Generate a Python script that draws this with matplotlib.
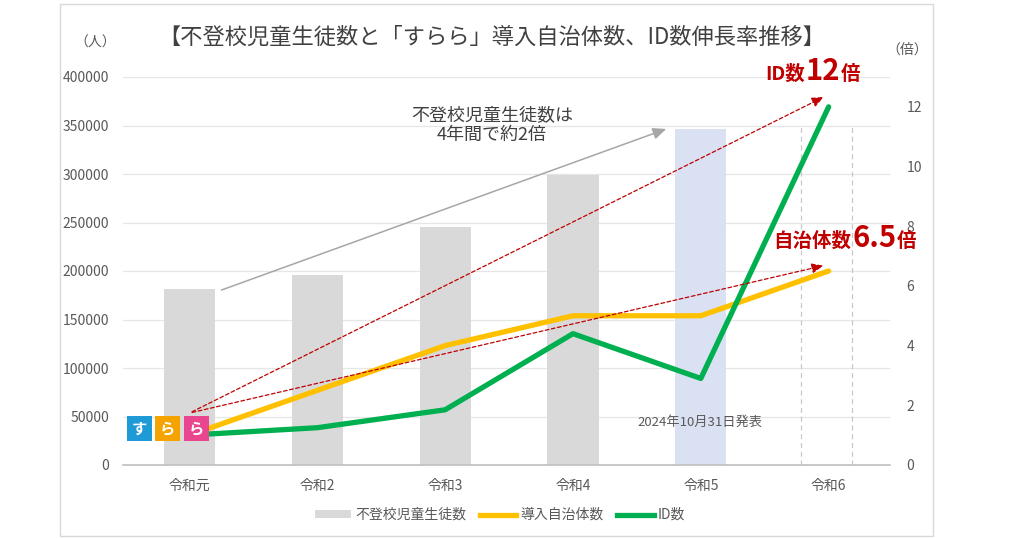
import matplotlib
matplotlib.use("Agg")
import matplotlib.pyplot as plt
from matplotlib.patches import Rectangle, Patch
from matplotlib.lines import Line2D

plt.rcParams['font.family'] = ['Noto Sans CJK JP', 'DejaVu Sans']

categories = ["令和元", "令和2", "令和3", "令和4", "令和5", "令和6"]
students = [181272, 196127, 244940, 299048, 346482, None]
municipalities = [1.0, 2.5, 4.0, 5.0, 5.0, 6.5]
id_counts = [1.0, 1.25, 1.85, 4.4, 2.9, 12.0]
left_ticks = [0, 50000, 100000, 150000, 200000, 250000, 300000, 350000, 400000]
right_ticks = [0, 2, 4, 6, 8, 10, 12]

GRAY = "#595959"
RED = "#C00000"

fig = plt.figure(figsize=(10.24, 5.38), dpi=100)
W, H = 1024, 538
ax = fig.add_axes([123 / W, 1 - 465 / H, (890 - 123) / W, (465 - 77) / H])
ax2 = ax.twinx()

x = list(range(len(categories)))
bar_colors = ["#D9D9D9"] * 4 + ["#D9E1F2", "#D9D9D9"]
bx = [i for i, v in zip(x, students) if v is not None]
bv = [v for v in students if v is not None]
ax.bar(bx, bv, width=0.4, color=bar_colors[:len(bx)], zorder=2)

ax.set_xlim(-0.52, 5.48)
ax.set_ylim(0, 400000)
ax.set_yticks(left_ticks)
ax.set_yticklabels([str(t) for t in left_ticks])
ax.grid(axis="y", color="#E6E6E6", linewidth=0.9, zorder=0)
ax.set_axisbelow(True)
for s in ["top", "right", "left"]:
    ax.spines[s].set_visible(False)
ax.spines["bottom"].set_color("#BFBFBF")
ax.spines["bottom"].set_linewidth(1.2)
ax.set_xticks(x)
ax.set_xticklabels(categories)
ax.tick_params(axis="both", length=0, colors=GRAY, labelsize=10)
ax.tick_params(axis="x", pad=10)
ax.tick_params(axis="y", pad=10, labelsize=10)

# dashed vertical lines around 令和6
for xv in [4.78, 5.18]:
    ax.axvline(xv, ymin=0, ymax=0.88, color="#C8C8C8", linestyle=(0, (4, 3)), linewidth=0.9, zorder=1)

ax2.set_ylim(0, 13.0)
ax2.set_yticks(right_ticks)
ax2.tick_params(axis="y", length=0, colors=GRAY, labelsize=10, pad=12)
for s in ["top", "right", "left", "bottom"]:
    ax2.spines[s].set_visible(False)

ax2.plot(x, municipalities, color="#FFC000", linewidth=3.8, zorder=4, solid_capstyle="round")
ax2.plot(x, id_counts, color="#00B050", linewidth=3.8, zorder=5, solid_capstyle="round")

# arrows
ax.annotate("", xy=(3.75, 347400), xytext=(0.23, 179400),
            arrowprops=dict(arrowstyle="-|>,head_length=0.8,head_width=0.35", color="#A6A6A6", lw=1.1))
ax2.annotate("", xy=(4.98, 12.37), xytext=(0.0, 1.74),
             arrowprops=dict(arrowstyle="-|>,head_length=0.7,head_width=0.3", color=RED, lw=0.9,
                             linestyle=(0, (3, 2))), zorder=6)
ax2.annotate("", xy=(4.98, 6.70), xytext=(0.0, 1.74),
             arrowprops=dict(arrowstyle="-|>,head_length=0.7,head_width=0.3", color=RED, lw=0.9,
                             linestyle=(0, (3, 2))), zorder=6)

# logo (drawn on top axes, positioned in left-axis data coords)
logo = [("す", "#1E9BD7", -0.485), ("ら", "#F5A300", -0.266), ("ら", "#E9468F", -0.039)]
for ch, col, x0 in logo:
    ax2.add_patch(Rectangle((x0, 24700), 0.19, 25800, facecolor=col, edgecolor="none", zorder=7,
                            clip_on=False, transform=ax.transData))
    ax2.text(x0 + 0.095, 37600, ch, color="white", fontsize=11, fontweight="bold",
             ha="center", va="center", zorder=8, transform=ax.transData)

# texts
fig.text(492 / W, 1 - 37 / H, "【不登校児童生徒数と「すらら」導入自治体数、ID数伸長率推移】",
         ha="center", va="center", fontsize=16, color="#404040")
fig.text(95 / W, 1 - 43 / H, "（人）", ha="center", va="center", fontsize=10, color=GRAY)
fig.text(907 / W, 1 - 50 / H, "（倍）", ha="center", va="center", fontsize=10, color=GRAY)
fig.text(492 / W, 1 - 125 / H, "不登校児童生徒数は\n4年間で約2倍", ha="center", va="center",
         fontsize=13, color="#404040", linespacing=1.2)
fig.text(700 / W, 1 - 422 / H, "2024年10月31日発表", ha="center", va="center", fontsize=9.5, color=GRAY)

renderer = fig.canvas.get_renderer()


def seq_text(x_px, y_px, parts):
    xp = x_px
    for txt, fs in parts:
        t = fig.text(xp / W, 1 - y_px / H, txt, ha="left", va="baseline", fontsize=fs,
                     color=RED, fontweight="bold")
        bb = t.get_window_extent(renderer=renderer)
        xp += bb.width + 1


seq_text(765, 80, [("ID数", 14), ("12", 21), ("倍", 14)])
seq_text(773, 247, [("自治体数", 14), ("6.5", 21), ("倍", 14)])

# legend
handles = [Patch(facecolor="#D9D9D9", edgecolor="none"),
           Line2D([0], [0], color="#FFC000", lw=3.8),
           Line2D([0], [0], color="#00B050", lw=3.8)]
labels = ["不登校児童生徒数", "導入自治体数", "ID数"]
fig.legend(handles, labels, loc="center", bbox_to_anchor=(500 / W, 1 - 515 / H), ncol=3, frameon=False,
           fontsize=10, labelcolor=GRAY, handlelength=2.6, handleheight=0.5, columnspacing=1.0, handletextpad=0.3)

# frame
fig.add_artist(Rectangle((60 / W, 2 / H), (933 - 60) / W, (536 - 4) / H, transform=fig.transFigure,
                         facecolor="none", edgecolor="#D9D9D9", linewidth=1.0))

fig.savefig("out.png", dpi=100)
